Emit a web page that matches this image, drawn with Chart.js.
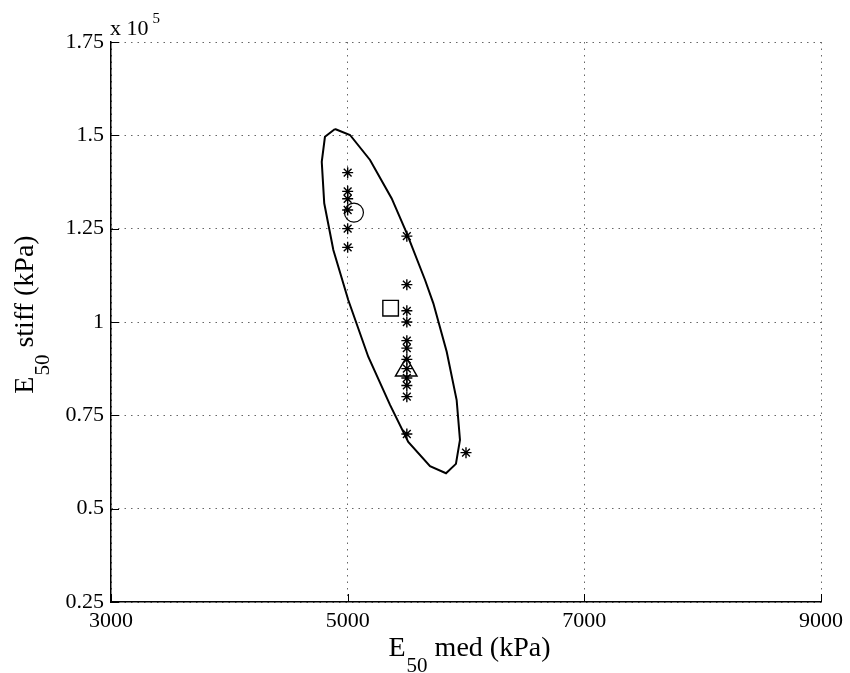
<!DOCTYPE html>
<html>
<head>
<meta charset="utf-8">
<script src="https://cdn.jsdelivr.net/npm/chart.js@4.4.1/dist/chart.umd.min.js"></script>
<style>
  html, body { margin: 0; padding: 0; background: #fff; }
  #wrap { width: 850px; height: 673px; position: relative; }
</style>
</head>
<body>
<div id="wrap"><canvas id="c" width="850" height="673"></canvas></div>
<script>
// ---- data (E50 med in kPa, E50 stiff in units of 1e5 kPa) ----
const starMed   = [5000, 5000, 5000, 5000, 5000, 5000, 5500, 5500, 5500, 5500, 5500, 5500, 5500, 5500, 5500, 5500, 5500, 5500, 6000];
const starStiff = [1.40, 1.35, 1.33, 1.30, 1.25, 1.20, 1.23, 1.10, 1.03, 1.00, 0.95, 0.93, 0.90, 0.875, 0.85, 0.83, 0.80, 0.70, 0.65];
const circleMed = [5053];  const circleStiff = [1.293];
const squareMed = [5363];  const squareStiff = [1.037];
const triMed    = [5495];  const triStiff    = [0.872];
const ellipseMed   = [4893, 5020, 5189, 5372, 5499, 5654, 5724, 5837, 5921, 5949, 5915, 5831, 5696, 5512, 5358, 5174, 5005, 4879, 4802, 4781, 4808, 4893];
const ellipseStiff = [1.517, 1.501, 1.434, 1.331, 1.238, 1.1125, 1.050, 0.9205, 0.791, 0.684, 0.620, 0.595, 0.614, 0.679, 0.778, 0.907, 1.059, 1.193, 1.318, 1.429, 1.496, 1.517];
const xTicks = [3000, 5000, 7000, 9000];
const yTicks = [0.25, 0.5, 0.75, 1, 1.25, 1.5, 1.75];
const yTickLabels = ['0.25', '0.5', '0.75', '1', '1.25', '1.5', '1.75'];

const pts = (xs, ys) => xs.map((x, i) => ({ x: x, y: ys[i] }));
const FONT = '"Liberation Serif", "Times New Roman", serif';

const overlay = {
  id: 'overlay',
  afterDraw(chart) {
    const ctx = chart.ctx;
    const xs = chart.scales.x, ys = chart.scales.y;
    const a = chart.chartArea;
    ctx.save();
    // inward ticks
    ctx.strokeStyle = '#000';
    ctx.lineWidth = 1;
    ctx.beginPath();
    xTicks.forEach(v => {
      const px = Math.round(xs.getPixelForValue(v)) + 0.5;
      ctx.moveTo(px, a.bottom); ctx.lineTo(px, a.bottom - 8);
    });
    yTicks.forEach(v => {
      const py = Math.round(ys.getPixelForValue(v)) + 0.5;
      ctx.moveTo(a.left, py); ctx.lineTo(a.left + 8, py);
    });
    ctx.stroke();
    ctx.fillStyle = '#000';
    // exponent label
    ctx.textBaseline = 'alphabetic';
    ctx.textAlign = 'left';
    ctx.font = '22px ' + FONT;
    ctx.fillText('x 10', a.left - 1, a.top - 7);
    const w10 = ctx.measureText('x 10').width;
    ctx.font = '15px ' + FONT;
    ctx.fillText('5', a.left + w10 + 3, a.top - 19);
    // axis titles with subscript
    const drawTitle = (main, rest, x, y) => {
      ctx.font = '28px ' + FONT;
      const wE = ctx.measureText(main).width;
      ctx.font = '21px ' + FONT;
      const wS = ctx.measureText('50').width;
      ctx.font = '28px ' + FONT;
      const wR = ctx.measureText(rest).width;
      const total = wE + wS + wR;
      const x0 = x - total / 2;
      ctx.textAlign = 'left';
      ctx.fillText(main, x0, y);
      ctx.font = '21px ' + FONT;
      ctx.fillText('50', x0 + wE + 1, y + 16);
      ctx.font = '28px ' + FONT;
      ctx.fillText(rest, x0 + wE + wS + 1, y);
    };
    drawTitle('E', ' med (kPa)', 469, 656);
    ctx.save();
    ctx.translate(33, 315);
    ctx.rotate(-Math.PI / 2);
    drawTitle('E', ' stiff (kPa)', 0, 0);
    ctx.restore();
    ctx.restore();
  }
};

new Chart(document.getElementById('c'), {
  type: 'scatter',
  data: {
    datasets: [
      { label: 'ellipse', data: pts(ellipseMed, ellipseStiff), showLine: true, borderColor: '#000', borderWidth: 2, pointRadius: 0, tension: 0, fill: false },
      { label: 'stars', data: pts(starMed, starStiff), pointStyle: 'star', pointRadius: 5.5, borderColor: '#000', borderWidth: 1.4, backgroundColor: 'transparent' },
      { label: 'circle', data: pts(circleMed, circleStiff), pointStyle: 'circle', pointRadius: 9.5, borderColor: '#000', borderWidth: 1.2, backgroundColor: 'transparent' },
      { label: 'square', data: pts(squareMed, squareStiff), pointStyle: 'rect', pointRadius: 11, borderColor: '#000', borderWidth: 1.4, backgroundColor: 'transparent' },
      { label: 'triangle', data: pts(triMed, triStiff), pointStyle: 'triangle', pointRadius: 12.5, borderColor: '#000', borderWidth: 1.4, backgroundColor: 'transparent' }
    ]
  },
  options: {
    responsive: false,
    animation: false,
    events: [],
    layout: { padding: { left: 0, top: 42, right: 29, bottom: 0 } },
    plugins: { legend: { display: false }, tooltip: { enabled: false } },
    scales: {
      x: {
        type: 'linear', min: 3000, max: 9000,
        afterBuildTicks: s => { s.ticks = xTicks.map(v => ({ value: v })); },
        afterFit: s => { s.height = 71; },
        ticks: { color: '#000', font: { family: FONT, size: 22 }, padding: 6, maxRotation: 0, callback: v => String(v) },
        grid: { color: '#666', lineWidth: 1, drawTicks: false, tickLength: 0 },
        border: { color: '#000', width: 1.5, dash: [1.5, 5] }
      },
      y: {
        type: 'linear', min: 0.25, max: 1.75,
        afterBuildTicks: s => { s.ticks = yTicks.map(v => ({ value: v })); },
        afterFit: s => { s.width = 111; },
        ticks: { color: '#000', font: { family: FONT, size: 22 }, padding: 7, callback: (v) => { const i = yTicks.indexOf(v); return i >= 0 ? yTickLabels[i] : ''; } },
        grid: { color: '#666', lineWidth: 1, drawTicks: false, tickLength: 0 },
        border: { color: '#000', width: 1.5, dash: [1.5, 5] }
      }
    }
  },
  plugins: [overlay]
});
</script>
</body>
</html>
